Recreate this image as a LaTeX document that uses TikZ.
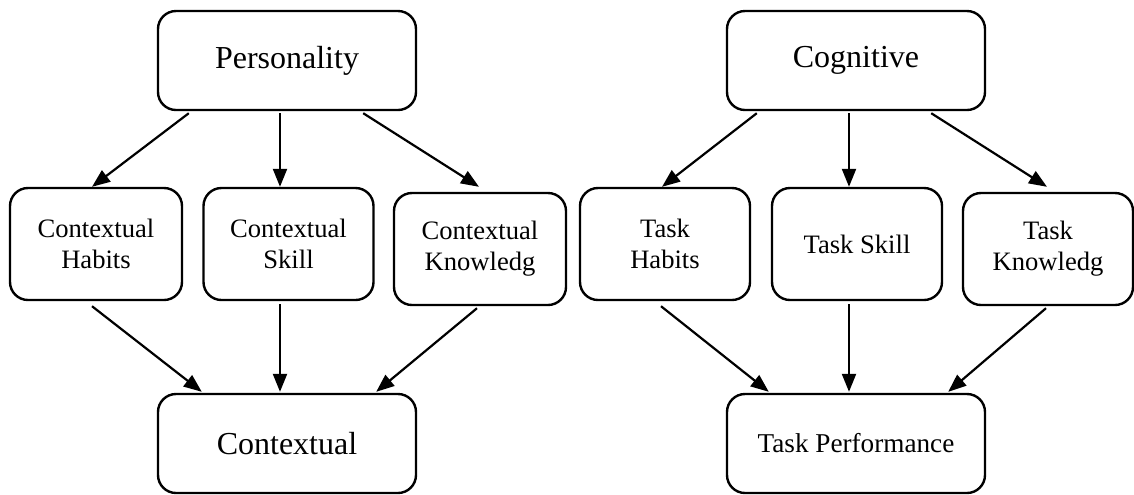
\documentclass[tikz,border=0pt]{standalone}
\usepackage{fontspec}
\setmainfont{Liberation Serif}
\usetikzlibrary{calc,arrows.meta}

\tikzset{
  bigbox/.style={draw,line width=1.2pt,rounded corners=9pt,minimum width=129pt,minimum height=49.5pt,inner sep=0pt,align=center,font=\fontsize{16}{19}\selectfont},
  midbox/.style={draw,line width=1.2pt,rounded corners=9pt,minimum height=56pt,inner sep=0pt,align=center,font=\fontsize{13.3}{15.5}\selectfont},
  conn/.style={line width=1.1pt,-{Triangle[length=9pt,width=7pt]}}
}

\begin{document}
\begin{tikzpicture}[x=0.5pt,y=-0.5pt]
    \useasboundingbox (0,0) rectangle (1134,494);
    % contextual side
    \node[bigbox] (per) at (287,60.5) {Personality};
    \node[midbox,minimum width=86pt] (chab) at (96,244) {Contextual\\Habits};
    \node[midbox,minimum width=85pt] (cski) at (288.5,244) {Contextual\\Skill};
    \node[midbox,minimum width=86pt] (ckno) at (480,249) {Contextual\\Knowledg};
    \node[bigbox] (ctx) at (287,443.5) {Contextual};
    % task side
    \node[bigbox] (cog) at (856,60.5) {Cognitive};
    \node[midbox,minimum width=85pt] (thab) at (665,244) {Task\\Habits};
    \node[midbox,minimum width=85pt] (tski) at (857,244) {Task Skill};
    \node[midbox,minimum width=85pt] (tkno) at (1048,249) {Task\\Knowledg};
    \node[bigbox,font=\fontsize{13.6}{16}\selectfont] (tper) at (856,443.5) {Task Performance};

    \draw[conn] ($(per.south west)+(32,2)$) -- ($(chab.north)+(-4,0)$);
    \draw[conn] ($(per.south)+(-7,2)$) -- ($(cski.north)+(-8.5,0)$);
    \draw[conn] ($(per.south east)+(-54,2)$) -- ($(ckno.north)+(-1,-5)$);
    \draw[conn] ($(chab.south)+(-4,5)$) -- ($(ctx.north west)+(45,-1)$);
    \draw[conn] ($(cski.south)+(-8.5,3)$) -- ($(ctx.north)+(-7,-1)$);
    \draw[conn] ($(ckno.south)+(-3,2)$) -- ($(ctx.north east)+(-41,-1)$);

    \draw[conn] ($(cog.south west)+(31,2)$) -- ($(thab.north)+(-3,0)$);
    \draw[conn] ($(cog.south)+(-7,2)$) -- ($(tski.north)+(-8,0)$);
    \draw[conn] ($(cog.south east)+(-55,2)$) -- ($(tkno.north)+(-1,-5)$);
    \draw[conn] ($(thab.south)+(-4,5)$) -- ($(tper.north west)+(43,-1)$);
    \draw[conn] ($(tski.south)+(-8,3)$) -- ($(tper.north)+(-7,-1)$);
    \draw[conn] ($(tkno.south)+(-2,2)$) -- ($(tper.north east)+(-38,-1)$);
\end{tikzpicture}
\end{document}
